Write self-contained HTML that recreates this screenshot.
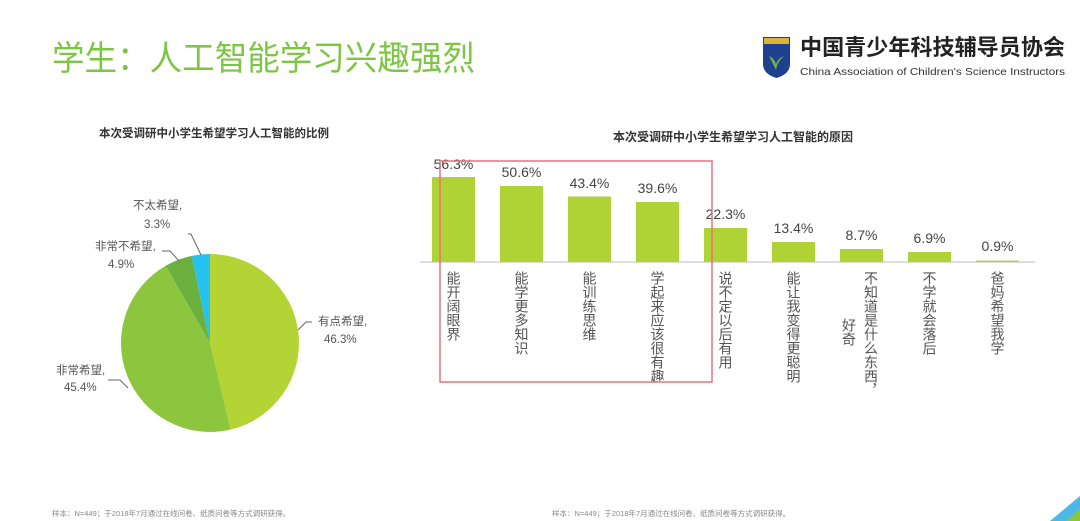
<!DOCTYPE html>
<html><head><meta charset="utf-8"><style>
html,body{margin:0;padding:0;background:#fff;}
svg{display:block;}
text{font-family:"Liberation Sans","Noto Sans CJK SC",sans-serif;}
</style></head><body>
<svg width="1080" height="521" viewBox="0 0 1080 521" xmlns="http://www.w3.org/2000/svg">
<rect width="1080" height="521" fill="#fff"/>
<text x="52" y="70" font-size="34" fill="#7dc642" textLength="423" lengthAdjust="spacingAndGlyphs">学生：人工智能学习兴趣强烈</text>
<!-- logo -->
<path d="M763 37 H790 V64 Q790 74 776.5 78 Q763 74 763 64 Z" fill="#1f3f8f"/>
<rect x="764" y="38" width="25" height="6" fill="#d9b43a"/>
<path d="M769 56 Q776 70 776 70 Q777 62 784 56 Q778 58 776 64 Q774 58 769 56Z" fill="#6ab43f"/>
<text x="800" y="55" font-size="22" font-weight="bold" fill="#222" font-family="'Noto Serif CJK SC',serif" textLength="265" lengthAdjust="spacingAndGlyphs">中国青少年科技辅导员协会</text>
<text x="800" y="75" font-size="10.5" fill="#333" textLength="265" lengthAdjust="spacingAndGlyphs">China Association of Children's Science Instructors</text>
<!-- pie -->
<text x="214" y="137" font-size="11.5" font-weight="bold" fill="#333" text-anchor="middle">本次受调研中小学生希望学习人工智能的比例</text>
<g transform="translate(210,343)">
<path d="M0 0 L0 -89 A89 89 0 0 1 20.5 86.6 Z" fill="#b4d334"/>
<path d="M0 0 L20.5 86.6 A89 89 0 0 1 -44.3 -77.2 Z" fill="#8cc63f"/>
<path d="M0 0 L-44.3 -77.2 A89 89 0 0 1 -18.3 -87.1 Z" fill="#6bb03e"/>
<path d="M0 0 L-18.3 -87.1 A89 89 0 0 1 0 -89 Z" fill="#27c3ef"/>
</g>
<g stroke="#666" stroke-width="1" fill="none">
<polyline points="298,330 306,322 312,322"/>
<polyline points="128,388 120,380 108,380"/>
<polyline points="179,261 170,251 162,251"/>
<polyline points="201,255 191,234 188,234"/>
</g>
<g font-size="11.5" fill="#555">
<text x="318" y="325">有点希望,</text><text x="324" y="343">46.3%</text>
<text x="56" y="374">非常希望,</text><text x="64" y="391">45.4%</text>
<text x="95" y="250">非常不希望,</text><text x="108" y="268">4.9%</text>
<text x="133" y="209">不太希望,</text><text x="144" y="228">3.3%</text>
</g>
<!-- bars -->
<text x="733" y="141" font-size="12" font-weight="bold" fill="#333" text-anchor="middle">本次受调研中小学生希望学习人工智能的原因</text>
<line x1="420" y1="262" x2="1035" y2="262" stroke="#bbb" stroke-width="1"/>
<g fill="#afd235">
<rect x="432" y="177" width="43" height="85"/>
<rect x="500" y="186" width="43" height="76"/>
<rect x="568" y="196.5" width="43" height="65.5"/>
<rect x="636" y="202" width="43" height="60"/>
<rect x="704" y="228" width="43" height="34"/>
<rect x="772" y="242" width="43" height="20"/>
<rect x="840" y="249" width="43" height="13"/>
<rect x="908" y="252" width="43" height="10"/>
<rect x="976" y="260.6" width="43" height="1.4"/>
</g>
<g font-size="14" fill="#444" text-anchor="middle">
<text x="453.5" y="169">56.3%</text>
<text x="521.5" y="177">50.6%</text>
<text x="589.5" y="188">43.4%</text>
<text x="657.5" y="193">39.6%</text>
<text x="725.5" y="219">22.3%</text>
<text x="793.5" y="233">13.4%</text>
<text x="861.5" y="240">8.7%</text>
<text x="929.5" y="243">6.9%</text>
<text x="997.5" y="251">0.9%</text>
</g>
<g font-size="14" fill="#555" style="writing-mode:vertical-rl" text-anchor="start">
<text x="453.5" y="271">能开阔眼界</text>
<text x="521.5" y="271">能学更多知识</text>
<text x="589.5" y="271">能训练思维</text>
<text x="657.5" y="271">学起来应该很有趣</text>
<text x="725.5" y="271">说不定以后有用</text>
<text x="793.5" y="271">能让我变得更聪明</text>
<text x="871" y="271">不知道是什么东西，</text>
<text x="849" y="318">好奇</text>
<text x="929.5" y="271">不学就会落后</text>
<text x="997.5" y="271">爸妈希望我学</text>
</g>
<rect x="440" y="161" width="272" height="221" fill="none" stroke="#e8727a" stroke-width="1.5"/>
<!-- footer -->
<g font-size="7.5" fill="#888">
<text x="52" y="516">样本：N=449；于2018年7月通过在线问卷、纸质问卷等方式调研获得。</text>
<text x="552" y="516">样本：N=449；于2018年7月通过在线问卷、纸质问卷等方式调研获得。</text>
</g>
<polygon points="1050,521 1080,496 1080,521" fill="#4db8e8"/>
<polygon points="1066,521 1080,509 1080,521" fill="#8cc63f"/>
</svg>
</body></html>
